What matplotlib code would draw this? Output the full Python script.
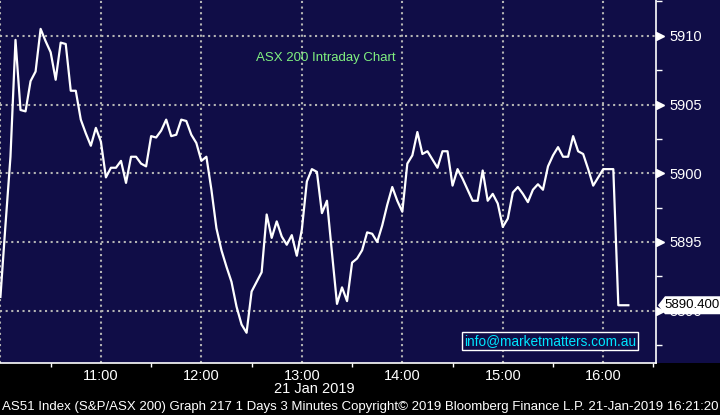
import matplotlib
matplotlib.use("Agg")
import matplotlib.pyplot as plt
import matplotlib.dates as mdates
import matplotlib.transforms as mtransforms
from matplotlib.patches import Polygon, Rectangle
import numpy as np
import pandas as pd

plt.rcParams['font.family'] = ['Liberation Sans', 'DejaVu Sans']

NAVY = "#100d47"
GRID = "#b4b4b4"

# AS51 3-minute closes, 21 Jan 2019, from 10:00
start_time = "2019-01-21 10:00"
values = [
    5891.0, 5896.2, 5901.2, 5909.7, 5904.6, 5904.5, 5906.7, 5907.4, 5910.5, 5909.6,
    5908.8, 5906.8, 5909.5, 5909.4, 5906.0, 5906.0, 5903.9, 5902.9, 5902.0, 5903.3,
    5902.3, 5899.7, 5900.4, 5900.4, 5900.9, 5899.3, 5901.2, 5901.2, 5900.7, 5900.5,
    5902.7, 5902.6, 5903.1, 5903.9, 5902.7, 5902.8, 5903.9, 5903.8, 5902.8, 5902.2,
    5900.9, 5901.2, 5898.8, 5896.0, 5894.4, 5893.2, 5892.1, 5890.3, 5889.0, 5888.4,
    5891.4, 5892.1, 5892.8, 5897.0, 5895.3, 5896.5, 5895.4, 5894.8, 5895.5, 5894.0,
    5895.9, 5899.4, 5900.3, 5900.1, 5897.1, 5898.0, 5894.2, 5890.5, 5891.7, 5890.7,
    5893.5, 5893.8, 5894.4, 5895.7, 5895.6, 5895.0, 5896.2, 5897.7, 5899.0, 5898.0,
    5897.2, 5900.7, 5901.3, 5903.0, 5901.4, 5901.6, 5901.0, 5900.4, 5901.6, 5901.6,
    5899.1, 5900.3, 5899.6, 5898.8, 5898.0, 5898.0, 5900.2, 5898.0, 5898.5, 5897.8,
    5896.1, 5896.7, 5898.6, 5899.0, 5898.5, 5897.9, 5898.8, 5899.2, 5898.8, 5900.5,
    5901.3, 5901.9, 5901.2, 5901.2, 5902.7, 5901.6, 5901.4, 5900.3, 5899.1, 5899.7,
    5900.3, 5900.3, 5900.3, 5890.4, 5890.4, 5890.4,
]
times = pd.date_range(start_time, periods=len(values), freq="3min")

y_ticks = [5890, 5895, 5900, 5905, 5910]
y_tick_labels = ["5890", "5895", "5900", "5905", "5910"]
x_tick_hours = ["10:00", "11:00", "12:00", "13:00", "14:00", "15:00", "16:00"]
date_label = "21 Jan 2019"
title = "ASX 200 Intraday Chart"
watermark = "info@marketmatters.com.au"
footer = ("AS51 Index (S&P/ASX 200) Graph 217 1 Days 3 Minutes "
          "Copyright\u00a9 2019 Bloomberg Finance L.P. 21-Jan-2019 16:21:20")

fig = plt.figure(figsize=(7.2, 4.15), dpi=100, facecolor="black")
fig.patches.append(Rectangle((0, 52 / 415), 1, 363 / 415, transform=fig.transFigure,
                             facecolor=NAVY, edgecolor="none", zorder=-5))
ax = fig.add_axes([0, 52 / 415, 656 / 720, 363 / 415])
ax.set_facecolor(NAVY)
ax.set_zorder(2)

ax.plot(times, values, color="white", linewidth=1.6, zorder=3)

x0 = pd.Timestamp(start_time)
ax.set_xlim(x0 - pd.Timedelta(seconds=15), x0 + pd.Timedelta(minutes=391.5))
ax.set_ylim(5886.2, 5912.6)

# x axis: labelled hours, small ticks on the half hours
hour_pos = [mdates.date2num(pd.Timestamp("2019-01-21 " + h)) for h in x_tick_hours]
ax.set_xticks(hour_pos)
ax.set_xticklabels([""] + x_tick_hours[1:])
ax.xaxis.set_minor_locator(mdates.MinuteLocator(byminute=[30]))
ax.tick_params(axis="x", which="major", length=0, colors="white", labelsize=10.5, pad=4)
ax.tick_params(axis="x", which="minor", length=3, width=1, colors="white")

# y axis on the right
ax.yaxis.tick_right()
ax.set_yticks(y_ticks)
ax.set_yticklabels(y_tick_labels)
ax.set_yticks([v + 2.5 for v in y_ticks[:-1]] + [5887.5, 5912.5], minor=True)
ax.tick_params(axis="y", which="major", length=0, colors="white", labelsize=10.5, pad=10)
ax.tick_params(axis="y", which="minor", length=4, width=1, colors="white")

ax.grid(True, which="major", color=GRID, linestyle=(0, (1, 1.7)), linewidth=1.5, zorder=1)

for side in ["top", "left"]:
    ax.spines[side].set_visible(False)
for side in ["right", "bottom"]:
    ax.spines[side].set_color("white")
    ax.spines[side].set_linewidth(1.2)

# triangle markers at major y ticks
yblend = mtransforms.blended_transform_factory(ax.transAxes, ax.transData)
ax.plot([1.006] * len(y_ticks), y_ticks, linestyle="none", marker=">", markersize=6,
        color="white", transform=yblend, clip_on=False, zorder=4)

# last value flag
last = values[-1]
half_h = 9 / 13.75
flag = Polygon([(1.003, last), (1.0137, last + half_h), (1.11, last + half_h),
                (1.11, last - half_h), (1.0137, last - half_h)],
               closed=True, facecolor="white", edgecolor="none",
               transform=yblend, clip_on=False, zorder=5)
ax.add_patch(flag)
ax.text(1.0135, last, f"{last:.3f}", transform=yblend, color="black", fontsize=9.5,
        ha="left", va="center", zorder=6, clip_on=False)

fig.text(326 / 720, 1 - 58 / 415, title, color="#80f080", fontsize=9.5,
         ha="center", va="center")

ax.text(550 / 656, 1 - 341 / 363, watermark, transform=ax.transAxes, color="#00e6ff",
        fontsize=9.8, ha="center", va="center", zorder=5,
        bbox=dict(boxstyle="square,pad=0.15", facecolor=NAVY, edgecolor="white", linewidth=1))

fig.text(355 / 720, 1 - 389 / 415, date_label, color="white", fontsize=10.5,
         ha="right", va="center")
fig.text(2 / 720, 1 - 406.5 / 415, footer, color="white", fontsize=9.5,
         ha="left", va="center")

fig.savefig("out.png", dpi=100, facecolor="black")
